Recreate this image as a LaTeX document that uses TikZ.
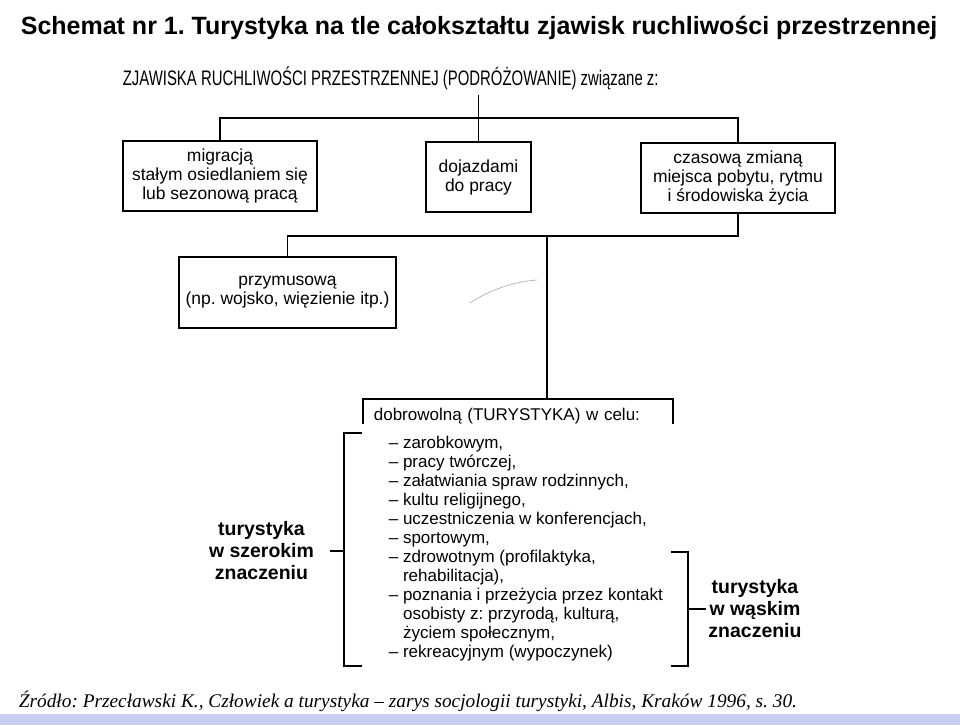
\documentclass[tikz,border=0pt]{standalone}
\usepackage{fontspec}
\setmainfont{Liberation Sans}
\newfontfamily\narrowfont[FakeStretch=0.71]{Liberation Sans}
\newfontfamily\sourcefont{Liberation Serif}
\usetikzlibrary{calc}
\definecolor{barblue}{RGB}{200,206,240}
\newcommand{\celindent}{\phantom{– }}
\frenchspacing

\begin{document}
\begin{tikzpicture}[
  x=0.75pt, y=-0.75pt,
  line width=1.3pt,
  box/.style={
    draw, align=center, inner sep=0pt,
    minimum height=52.5pt,
    font=\fontsize{13.1}{14.25}\selectfont
  },
  boldlabel/.style={
    align=center, inner xsep=1pt,
    font=\fontsize{14.6}{16.5}\selectfont\bfseries
  },
  celtext/.style={
    align=left, inner sep=0pt,
    font=\fontsize{12.75}{14.25}\selectfont
  }
]

\useasboundingbox (0,0) rectangle (960,725);

% Title and heading
\node[anchor=base west, inner sep=0pt, font=\fontsize{18.75}{20}\selectfont\bfseries] (title) at (20,34)
  {Schemat nr 1. Turystyka na tle całokształtu zjawisk ruchliwości przestrzennej};
\node[anchor=base west, inner xsep=0pt, font=\narrowfont\fontsize{15.75}{17}\selectfont] (sub) at (122,85)
  {ZJAWISKA RUCHLIWOŚCI PRZESTRZENNEJ (PODRÓŻOWANIE) związane z:};

% ===== First level =====
\node[box, minimum width=145.5pt] (box1) at (220,176)
  {migracją\\stałym osiedlaniem się\\lub sezonową pracą};
\node[box, minimum width=78.75pt] (box2) at (478.5,177)
  {dojazdami\\do pracy};
\node[box, minimum width=145.5pt] (box3) at (738,178)
  {czasową zmianą\\miejsca pobytu, rytmu\\i środowiska życia};

\coordinate (topbus) at (479,118);
\draw (box2.north) -- (box2.north |- sub.south);
\draw (box1.north) |- (topbus) -| (box3.north);

% ===== Second level =====
\node[box, minimum width=162.75pt, minimum height=53.25pt] (box4) at (287.5,292.5)
  {przymusową\\(np. wojsko, więzienie itp.)};
\node[anchor=north west, align=left, text width=216pt, inner xsep=7.5pt, inner ysep=0pt,
  text height=15.75pt, text depth=1.5pt, font=\fontsize{12.75}{14.25}\selectfont] (dobro) at (363,399)
  {dobrowolną (TURYSTYKA) w celu:};
\draw (dobro.south west) |- (dobro.north east) -- (dobro.south east);

\coordinate (midbus) at (547,236);
\draw (box3.south) |- (midbus) -| (box4.north);
\draw (midbus) -- (midbus |- dobro.north);

% pen stroke on the scan
\draw[gray!55, line width=0.6pt] (470,303) .. controls (490,290) and (512,282) .. (537,280);

% ===== Purposes =====
\node[celtext, anchor=north west] (cele) at (388,435) {%
  – zarobkowym,\\
  – pracy twórczej,\\
  – załatwiania spraw rodzinnych,\\
  – kultu religijnego,\\
  – uczestniczenia w konferencjach,\\
  – sportowym,\\
  – zdrowotnym (profilaktyka,\\
  \celindent rehabilitacja),\\
  – poznania i przeżycia przez kontakt\\
  \celindent osobisty z: przyrodą, kulturą,\\
  \celindent życiem społecznym,\\
  – rekreacyjnym (wypoczynek)};

% Brackets
\coordinate (lbrtop) at (344,433);
\coordinate (lbrbot) at (344,666);
\coordinate (rbrtop) at (688,552);
\coordinate (rbrbot) at (688,666);
\draw ($(lbrtop)+(18,0)$) -- (lbrtop) -- (lbrbot) -- ++(18,0);
\draw ($(rbrtop)+(-17,0)$) -- (rbrtop) -- (rbrbot) -- ++(-17,0);

\node[boldlabel] (szer) at (261.5,551) {turystyka\\w szerokim\\znaczeniu};
\node[boldlabel] (waski) at (755,609) {turystyka\\w wąskim\\znaczeniu};
\draw (szer.east) ++(13.5,0) -- (szer.east -| lbrtop);
\draw (waski.west) -- (waski.west -| rbrtop);

% Source
\node[anchor=base west, inner sep=0pt, font=\sourcefont\itshape\fontsize{14.5}{16}\selectfont] (src) at (18,707)
  {Źródło: Przecławski K., Człowiek a turystyka – zarys socjologii turystyki, Albis, Kraków 1996, s. 30.};

% bottom bar
\fill[barblue] (0,714) rectangle (960,725);

\end{tikzpicture}
\end{document}
